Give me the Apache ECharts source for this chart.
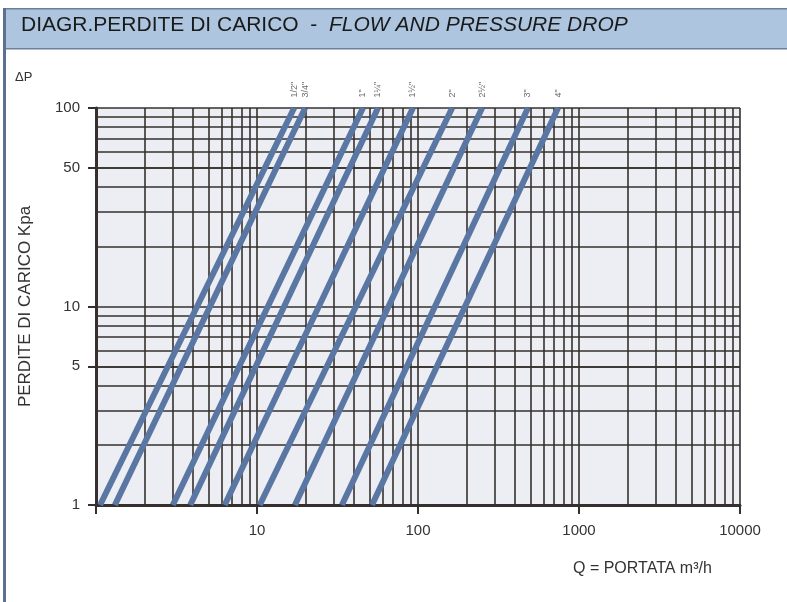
<!DOCTYPE html>
<html>
<head>
<meta charset="utf-8">
<script src="https://cdn.jsdelivr.net/npm/echarts@6/dist/echarts.min.js"></script>
<style>
html,body{margin:0;padding:0;background:#fff;}
#chart{width:787px;height:602px;}
</style>
</head>
<body>
<div id="chart"></div>
<script>
// Pipe sizes (labels at top of each line)
const sizes = ['1/2"', '3/4"', '1"', '1¼"', '1½"', '2"', '2½"', '3"', '4"'];
// Flow Q (m³/h) where each line crosses ΔP = 1 kPa
const qAtDp1 = [1.06, 1.31, 3.0, 3.85, 6.3, 10.4, 17.2, 33.7, 51.8];
// Flow Q (m³/h) where each line crosses ΔP = 100 kPa
const qAtDp100 = [17.0, 19.9, 45.5, 56.4, 93, 163, 250, 482, 741];
// pressure-drop ends of each line
const dpLow = 1, dpHigh = 100;
// Axis labels
const yTickValues = [1, 5, 10, 50, 100];
const xTickLabels = [10, 100, 1000, 10000];

const FONT = '"Liberation Sans Narrow", "Liberation Sans", Arial, sans-serif';
const GRID_COL = '#35302d';
const LINE_COL = '#5a76a3';

const chart = echarts.init(document.getElementById('chart'), null, {renderer: 'canvas'});

const series = sizes.map((name, i) => ({
  name: name,
  type: 'line',
  symbol: 'none',
  silent: true,
  animation: false,
  lineStyle: {color: LINE_COL, width: 6, cap: 'butt'},
  data: [[qAtDp1[i], dpLow], [qAtDp100[i], dpHigh]]
}));

// label markers at the top end of each line
series.push({
  type: 'scatter',
  silent: true,
  clip: false,
  symbolSize: 1,
  itemStyle: {color: 'rgba(0,0,0,0)'},
  z: 5,
  label: {
    show: true,
    formatter: p => sizes[p.dataIndex],
    position: 'top',
    rotate: 90,
    align: 'left',
    verticalAlign: 'middle',
    distance: 10,
    fontFamily: FONT,
    fontSize: 9,
    color: '#444'
  },
  data: qAtDp100.map(q => [q, dpHigh])
});

const option = {
  backgroundColor: '#ffffff',
  animation: false,
  grid: {
    left: 96, top: 108, width: 644, height: 397,
    show: true, backgroundColor: '#eceef4', borderWidth: 0
  },
  xAxis: {
    type: 'log', logBase: 10, min: 1, max: 10000,
    axisLine: {show: true, onZero: false, lineStyle: {color: GRID_COL, width: 3}},
    axisTick: {show: true, length: 9, lineStyle: {color: GRID_COL, width: 2}},
    axisLabel: {
      margin: 18, fontFamily: FONT, fontSize: 15, color: '#333',
      formatter: v => (xTickLabels.indexOf(v) >= 0 ? String(v) : '')
    },
    splitLine: {show: true, lineStyle: {color: GRID_COL, width: 1.6}},
    minorTick: {show: false, splitNumber: 9},
    minorSplitLine: {show: true, lineStyle: {color: GRID_COL, width: 1.6}}
  },
  yAxis: {
    type: 'log', logBase: 10, min: 1, max: 100,
    name: 'PERDITE DI CARICO Kpa',
    nameLocation: 'middle', nameRotate: 90, nameGap: 62,
    nameTextStyle: {fontFamily: FONT, fontSize: 17, color: '#333'},
    axisLine: {show: true, onZero: false, lineStyle: {color: GRID_COL, width: 3}},
    axisTick: {show: true, length: 8, customValues: yTickValues, lineStyle: {color: GRID_COL, width: 2}},
    axisLabel: {margin: 16, customValues: yTickValues, fontFamily: FONT, fontSize: 15, color: '#333'},
    splitLine: {show: true, lineStyle: {color: GRID_COL, width: 1.6}},
    minorTick: {show: false, splitNumber: 9},
    minorSplitLine: {show: true, lineStyle: {color: GRID_COL, width: 1.6}}
  },
  graphic: [
    {type: 'rect', left: 4, top: 8, z: 10, silent: true,
     shape: {width: 790, height: 40}, style: {fill: '#adc5df', stroke: '#6d7f96', lineWidth: 1.5}},
    {type: 'rect', left: 3, top: 8, z: 11, silent: true,
     shape: {width: 3, height: 600}, style: {fill: '#5c7191'}},
    {type: 'text', left: 21, top: 15, z: 12, silent: true,
     style: {
       text: '{n|DIAGR.PERDITE DI CARICO  -  }{i|FLOW AND PRESSURE DROP}',
       rich: {
         n: {fontFamily: FONT, fontSize: 21, fill: '#1a1a1a'},
         i: {fontFamily: FONT, fontSize: 21, fontStyle: 'italic', fill: '#1a1a1a'}
       }
     }},
    {type: 'text', left: 15, top: 71, z: 12, silent: true,
     style: {text: 'ΔP', fontFamily: FONT, fontSize: 13, fill: '#333'}},
    {type: 'text', left: 573, top: 561, z: 12, silent: true,
     style: {text: 'Q = PORTATA m³/h', fontFamily: FONT, fontSize: 16, fill: '#333'}}
  ],
  series: series
};

chart.setOption(option);
</script>
</body>
</html>
